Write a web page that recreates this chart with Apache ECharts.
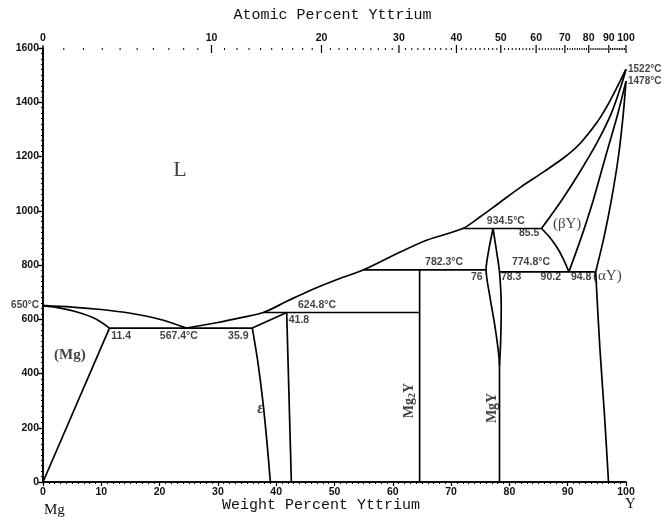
<!DOCTYPE html>
<html><head><meta charset="utf-8">
<script src="https://cdn.jsdelivr.net/npm/echarts/dist/echarts.min.js"></script>
<style>html,body{margin:0;padding:0;background:#fff}#c{width:665px;height:521px}</style>
</head><body><div id="c"></div>
<script>
// ---- data (x = weight % Y, y = temperature °C) ----
const atomicTicks = [0,10,20,30,40,50,60,70,80,90,100];
const liquidusMg   = [[0,650],[5,645],[10,636],[15,622],[20,600],[24.6,567.4]];
const solidusMg    = [[0,650],[3,641],[6,626],[9,602],[11.4,567.4]];
const solvusMg     = [[11.4,567.4],[0,0]];
const eutecticLine = [[11.4,567.4],[35.9,567.4]];
const liquidusMain = [[24.6,567.4],[30,588],[34,606],[37.8,624.8],[42,668],[46,708],[50,743],[55,782.3],[61,845],[66,893],[72,934.5],[75,978],[78,1025],[82,1088],[86,1145],[89.5,1198],[92,1245],[95,1325],[97,1395],[99,1478],[100,1522]];
const epsLeft      = [[35.9,567.4],[36.8,450],[37.7,300],[38.4,150],[39.0,0]];
const epsTop       = [[35.9,567.4],[41.8,624.8]];
const epsRight     = [[41.8,624.8],[42.6,0]];
const peritectic1  = [[37.8,624.8],[64.6,624.8]];
const mg2yLine     = [[64.6,0],[64.6,782.3]];
const peritectic2  = [[55,782.3],[76,782.3]];
const mgyLeft      = [[77.2,934.5],[76.5,860],[76,782.3],[76.6,690],[77.4,590],[78.0,500],[78.3,430],[78.3,0]];
const mgyRight     = [[77.2,934.5],[77.8,850],[78.3,774.8],[78.6,650],[78.5,520],[78.3,430]];
const peritectic3  = [[72,934.5],[85.5,934.5]];
const eutectoid    = [[78.3,774.8],[94.8,774.8]];
const betaLeft     = [[85.5,934.5],[86.8,905],[88.1,867],[89.3,820],[90.2,774.8]];
const solidusY     = [[85.5,934.5],[89,1040],[92,1140],[95,1250],[97.5,1360],[99.3,1470],[100,1522]];
const betaRight    = [[90.2,774.8],[92.3,900],[94.4,1040],[96.5,1200],[98.5,1350],[100,1478]];
const alphaLeft    = [[94.8,774.8],[96.2,900],[97.5,1040],[98.7,1200],[99.5,1350],[100,1478]];
const alphaSolvus  = [[94.8,774.8],[95.5,500],[96.3,250],[97.0,0]];
const tick650      = [[-1.3,650],[0.9,650]];

const curves = [liquidusMg, solidusMg, solvusMg, eutecticLine, liquidusMain, epsLeft, epsTop, epsRight,
  peritectic1, mg2yLine, peritectic2, mgyLeft, mgyRight, peritectic3, eutectoid, betaLeft, solidusY,
  betaRight, alphaLeft, alphaSolvus, tick650];
const curvedIdx = [0,1,4,5,11,12,15,16,17,18,19];

// annotations: [wt%, °C, text]
const numLabels = [
  [13.4,538,'11.4'],[23.3,538,'567.4°C'],[33.5,538,'35.9'],[43.9,597,'41.8'],[47,652,'624.8°C'],
  [68.8,812,'782.3°C'],[74.4,757,'76'],[80.3,757,'78.3'],[83.7,812,'774.8°C'],[87.1,757,'90.2'],
  [92.3,757,'94.8'],[79.4,960,'934.5°C'],[83.4,918,'85.5']
];
const phaseLabels = [
  [23.5,1150,'L'],[4.6,468,'(Mg)'],[37.3,270,'ε'],[89.9,951,'(βY)'],[96.8,760,'(αY)']
];
const compoundLabels = [[62.9,300,'Mg2Y'],[77.0,273,'MgY']];
const sideLabels = [[100,1522,'1522°C'],[100,1478,'1478°C'],[0,650,'650°C']];

function atToWt(a){ return 100*a*88.906/(a*88.906+(100-a)*24.305); }
const topTicks = [];
for (let a=0;a<=100;a++){ topTicks.push([atToWt(a),1600,a%10===0?1:0]); }

const chart = echarts.init(document.getElementById('c'));
const SANS = '"Liberation Sans", Arial, sans-serif';
const SERIF = '"Liberation Serif", "DejaVu Serif", serif';
const series = curves.map((c,i)=>({
  type:'line', data:c, symbol:'none', clip:false, silent:true,
  smooth: curvedIdx.includes(i) ? 0.3 : false,
  lineStyle:{color:'#000', width:1.7}
}));

series.push({
  type:'custom', clip:false, silent:true, data: topTicks,
  renderItem(params, api){
    const p = api.coord([api.value(0), 1600]);
    const major = api.value(2)===1;
    const ch = [{type:'line', shape:{x1:p[0],y1:p[1]-(major?3:0),x2:p[0],y2:p[1]+(major?5:2)},
      style:{stroke:'#000', lineWidth: major?1.2:1}}];
    if (major){
      ch.push({type:'text', x:p[0], y:p[1]-4, style:{text:String(params.dataIndex), textAlign:'center', textVerticalAlign:'bottom',
        font:'bold 10.5px ' + SANS, fill:'#111'}});
    }
    return {type:'group', children:ch};
  }
});

series.push({
  type:'scatter', symbolSize:0, silent:true, clip:false,
  data: numLabels.map(d=>({value:[d[0],d[1]], label:{show:true, position:'inside', formatter:d[2],
    fontFamily:SANS, fontWeight:'bold', fontSize:10.5, color:'#111'}}))
});
series.push({
  type:'scatter', symbolSize:0, silent:true, clip:false,
  data: phaseLabels.map(d=>{
    const isL = d[2]==='L';
    const isEps = d[2]==='ε';
    const isMg = d[2]==='(Mg)';
    return {value:[d[0],d[1]], label:{show:true, position:'inside', formatter:d[2],
      fontFamily:SERIF,
      fontSize: isL?22:(isEps?16:15), fontStyle: isEps?'italic':'normal', fontWeight: (isMg||isEps)?'bold':'normal',
      color:'#111'}};
  })
});
series.push({
  type:'scatter', symbolSize:0, silent:true, clip:false,
  data: compoundLabels.map(d=>({value:[d[0],d[1]], label:{show:true, position:'inside', rotate:90,
    formatter: d[2]==='Mg2Y' ? '{a|Mg}{s|2}{a|Y}' : '{a|MgY}',
    rich:{a:{fontFamily:SERIF, fontWeight:'bold', fontSize:14, color:'#111'},
          s:{fontFamily:SERIF, fontWeight:'bold', fontSize:10, color:'#111', padding:[5,0,0,0]}}}}))
});
series.push({
  type:'scatter', symbolSize:0, silent:true, clip:false,
  data: sideLabels.map(d=>({value:[d[0],d[1]], label:{show:true, position: d[0]===0?'left':'right', distance: d[0]===0?4:2,
    formatter:d[2], fontFamily:SANS, fontWeight:'bold', fontSize:10, color:'#111'}}))
});

const axisCommon = {
  type:'value', min:0, max:100, interval:10,
  axisLine:{lineStyle:{color:'#000', width:1.6}},
  splitLine:{show:false}
};
chart.setOption({
  animation:false,
  backgroundColor:'#fff',
  grid:{left:43, right:39, top:48, bottom:39},
  xAxis:[
    Object.assign({}, axisCommon, {position:'bottom',
      axisTick:{show:true, length:4, lineStyle:{color:'#000', width:1.2}},
      minorTick:{show:true, splitNumber:10, length:2, lineStyle:{color:'#000'}},
      axisLabel:{fontFamily:SANS, fontWeight:'bold', fontSize:10.5, color:'#111', margin:5}}),
    Object.assign({}, axisCommon, {position:'top', axisTick:{show:false}, axisLabel:{show:false}})
  ],
  yAxis:[
    {type:'value', min:0, max:1600, interval:200, position:'left',
     axisLine:{show:true, lineStyle:{color:'#000', width:1.6}},
     axisTick:{show:true, length:5, lineStyle:{color:'#000', width:1.2}},
     minorTick:{show:true, splitNumber:10, length:2, lineStyle:{color:'#000'}},
     axisLabel:{fontFamily:SANS, fontWeight:'bold', fontSize:10.5, color:'#111', margin:4, formatter:v=>String(v)}, splitLine:{show:false}},
    {type:'value', min:0, max:1600, interval:200, position:'right',
     axisLine:{show:true, lineStyle:{color:'#000', width:1.6}},
     axisTick:{show:true, inside:true, length:4, lineStyle:{color:'#000', width:1.2}},
     minorTick:{show:true, splitNumber:10, length:2, lineStyle:{color:'#000'}},
     axisLabel:{show:false}, splitLine:{show:false}}
  ],
  graphic:[
    {type:'text', left:'center', top:8, style:{text:'Atomic Percent Yttrium', font:'15px "Liberation Mono", "DejaVu Sans Mono", monospace', fill:'#111'}},
    {type:'text', x:222, y:498, style:{text:'Weight Percent Yttrium', font:'15px "Liberation Mono", "DejaVu Sans Mono", monospace', fill:'#111'}},
    {type:'text', x:44, y:503, style:{text:'Mg', font:'15px "Liberation Serif", serif', fill:'#111'}},
    {type:'text', x:625, y:497, style:{text:'Y', font:'15px "Liberation Serif", serif', fill:'#111'}}
  ],
  series
});
</script></body></html>
